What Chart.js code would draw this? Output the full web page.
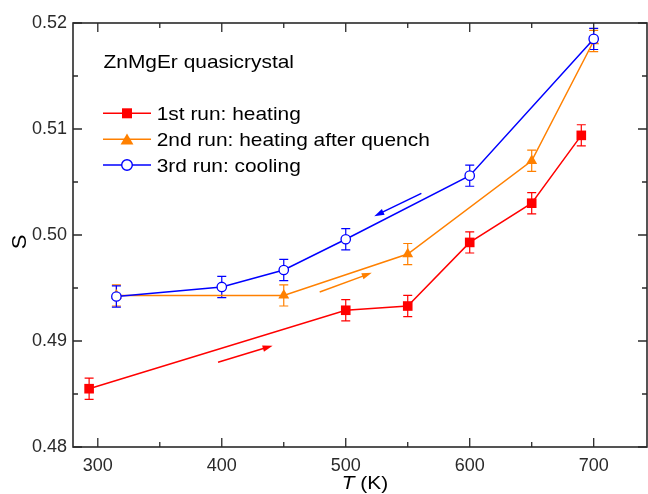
<!DOCTYPE html>
<html><head><meta charset="utf-8">
<script src="https://cdn.jsdelivr.net/npm/chart.js@4.4.1/dist/chart.umd.min.js"></script>
<style>html,body{margin:0;padding:0;background:#fff;}#wrap{width:648px;height:494px;position:relative;}</style>
</head><body><div id="wrap"><canvas id="c" width="648" height="494"></canvas></div>
<script>
// ---- data ----
const seriesNames = ['1st run: heating', '2nd run: heating after quench', '3rd run: cooling'];
const redT = [293, 500, 550, 600, 650, 690];
const redS = [0.4855, 0.4929, 0.4933, 0.4993, 0.5030, 0.5094];
const redErr = [0.001, 0.001, 0.001, 0.001, 0.001, 0.001];
const orangeT = [315, 450, 550, 650, 700];
const orangeS = [0.4943, 0.4943, 0.4982, 0.5070, 0.5183];
const orangeErr = [0.001, 0.001, 0.001, 0.001, 0.001];
const blueT = [315, 400, 450, 500, 600, 700];
const blueS = [0.4942, 0.4951, 0.4967, 0.4996, 0.5056, 0.5185];
const blueErr = [0.001, 0.001, 0.001, 0.001, 0.001, 0.001];
const xTicks = [300, 400, 500, 600, 700];
const xMinorTicks = [350, 450, 550, 650];
const yTicks = [0.48, 0.49, 0.50, 0.51, 0.52];
const yMinorTicks = [0.485, 0.495, 0.505, 0.515];
const titleText = 'ZnMgEr quasicrystal';
const xTitleItalic = 'T';
const xTitleRest = ' (K)';
const yTitleText = 'S';
// direction arrows (data coordinates: [T, S] start, end)
const arrowRed = [[397, 0.4880], [441, 0.48955]];
const arrowOrange = [[479, 0.49462], [521, 0.49643]];
const arrowBlue = [[561, 0.50392], [523, 0.50178]];

const RED = '#ff0000', ORANGE = '#ff8000', BLUE = '#0000ff', AX = '#2a2a2a';
const FONT = '"Liberation Sans", Arial, Helvetica, sans-serif';

const pts = (xs, ys) => xs.map((x, i) => ({x: x, y: ys[i]}));

function drawMarker(ctx, style, x, y, color) {
  ctx.save();
  if (style === 'rect') {
    const h = 5;
    ctx.fillStyle = color;
    ctx.fillRect(x - h, y - h, 2 * h, 2 * h);
  } else if (style === 'triangle') {
    const r = 7.4;
    ctx.fillStyle = color;
    ctx.beginPath();
    ctx.moveTo(x, y - r);
    ctx.lineTo(x + r * Math.sin(2 * Math.PI / 3), y - r * Math.cos(2 * Math.PI / 3));
    ctx.lineTo(x + r * Math.sin(4 * Math.PI / 3), y - r * Math.cos(4 * Math.PI / 3));
    ctx.closePath();
    ctx.fill();
  } else {
    ctx.fillStyle = '#fff';
    ctx.strokeStyle = color;
    ctx.lineWidth = 1.4;
    ctx.beginPath();
    ctx.arc(x, y, 5.3, 0, Math.PI * 2);
    ctx.fill();
    ctx.stroke();
  }
  ctx.restore();
}

function sText(ctx, text, x, y, size, sx, opts) {
  opts = opts || {};
  ctx.save();
  ctx.translate(x, y);
  if (opts.rot) ctx.rotate(opts.rot);
  ctx.scale(sx, 1);
  ctx.font = (opts.italic ? 'italic ' : '') + size + 'px ' + FONT;
  ctx.fillStyle = opts.color || '#000';
  ctx.textAlign = opts.align || 'left';
  ctx.textBaseline = opts.baseline || 'alphabetic';
  ctx.fillText(text, 0, 0);
  ctx.restore();
}

const deco = {
  id: 'deco',
  beforeDatasetsDraw(chart) {
    const ctx = chart.ctx, xs = chart.scales.x, ys = chart.scales.y;
    const sets = [[redT, redS, redErr, RED], [orangeT, orangeS, orangeErr, ORANGE], [blueT, blueS, blueErr, BLUE]];
    ctx.save();
    ctx.lineWidth = 1.2;
    sets.forEach(([T, S, E, col]) => {
      ctx.strokeStyle = col;
      T.forEach((t, i) => {
        const px = xs.getPixelForValue(t);
        const y1 = ys.getPixelForValue(S[i] + E[i]);
        const y2 = ys.getPixelForValue(S[i] - E[i]);
        ctx.beginPath();
        ctx.moveTo(px, y1); ctx.lineTo(px, y2);
        ctx.moveTo(px - 4.5, y1); ctx.lineTo(px + 4.5, y1);
        ctx.moveTo(px - 4.5, y2); ctx.lineTo(px + 4.5, y2);
        ctx.stroke();
      });
    });
    // arrows
    [[arrowRed, RED], [arrowOrange, ORANGE], [arrowBlue, BLUE]].forEach(([a, col]) => {
      const x1 = xs.getPixelForValue(a[0][0]), y1 = ys.getPixelForValue(a[0][1]);
      const x2 = xs.getPixelForValue(a[1][0]), y2 = ys.getPixelForValue(a[1][1]);
      const ang = Math.atan2(y2 - y1, x2 - x1);
      const L = 10, W = 3.2;
      const bx = x2 - L * Math.cos(ang), by = y2 - L * Math.sin(ang);
      ctx.strokeStyle = col; ctx.fillStyle = col; ctx.lineWidth = 1.5;
      ctx.beginPath(); ctx.moveTo(x1, y1); ctx.lineTo(bx + 2 * Math.cos(ang), by + 2 * Math.sin(ang)); ctx.stroke();
      ctx.beginPath();
      ctx.moveTo(x2, y2);
      ctx.lineTo(bx + W * Math.sin(ang), by - W * Math.cos(ang));
      ctx.lineTo(bx - W * Math.sin(ang), by + W * Math.cos(ang));
      ctx.closePath(); ctx.fill();
    });
    ctx.restore();
  },
  afterDatasetsDraw(chart) {
    const ctx = chart.ctx, xs = chart.scales.x, ys = chart.scales.y;
    const a = chart.chartArea;
    ctx.save();
    ctx.strokeStyle = AX;
    ctx.lineWidth = 1.6;
    ctx.strokeRect(a.left, a.top, a.right - a.left, a.bottom - a.top);
    ctx.lineWidth = 1.3;
    ctx.beginPath();
    const tickX = (v, len) => {
      const p = xs.getPixelForValue(v);
      ctx.moveTo(p, a.bottom); ctx.lineTo(p, a.bottom - len);
      ctx.moveTo(p, a.top); ctx.lineTo(p, a.top + len);
    };
    const tickY = (v, len) => {
      const p = ys.getPixelForValue(v);
      ctx.moveTo(a.left, p); ctx.lineTo(a.left + len, p);
      ctx.moveTo(a.right, p); ctx.lineTo(a.right - len, p);
    };
    xTicks.forEach(v => tickX(v, 9));
    xMinorTicks.forEach(v => tickX(v, 5));
    yTicks.forEach(v => tickY(v, 9));
    yMinorTicks.forEach(v => tickY(v, 5));
    ctx.stroke();
    ctx.restore();

    // title
    sText(ctx, titleText, 103.5, 68.3, 19, 1.1);
    // legend
    const legend = [[RED, 'rect', 113.3, 120], [ORANGE, 'triangle', 139.3, 146], [BLUE, 'circle', 165, 171.7]];
    legend.forEach(([col, st, cy, base], i) => {
      ctx.save();
      ctx.strokeStyle = col; ctx.lineWidth = 1.5;
      ctx.beginPath(); ctx.moveTo(103, cy); ctx.lineTo(151, cy); ctx.stroke();
      ctx.restore();
      drawMarker(ctx, st, 127, st === 'triangle' ? cy + 1.5 : cy, col);
      sText(ctx, seriesNames[i], 156.7, base, 19, 1.1);
    });
    // axis titles
    sText(ctx, yTitleText, 20, 242, 21, 1.05, {rot: -Math.PI / 2, align: 'center', baseline: 'middle'});
    ctx.save();
    ctx.font = 'italic 19px ' + FONT;
    const w1 = ctx.measureText(xTitleItalic).width * 1.1;
    ctx.font = '19px ' + FONT;
    const w2 = ctx.measureText(xTitleRest).width * 1.1;
    ctx.restore();
    const cx = (a.left + a.right) / 2 + 5;
    const x0 = cx - (w1 + w2) / 2;
    sText(ctx, xTitleItalic, x0, 489, 19, 1.1, {italic: true});
    sText(ctx, xTitleRest, x0 + w1, 489, 19, 1.1);
  }
};

const datasets = [
  {label: seriesNames[2], data: pts(blueT, blueS), borderColor: BLUE, backgroundColor: '#fff',
   pointStyle: 'circle', pointRadius: 4.7, pointBorderWidth: 1.3, pointBackgroundColor: '#fff', pointBorderColor: BLUE,
   borderWidth: 1.5, order: 0},
  {label: seriesNames[1], data: pts(orangeT, orangeS), borderColor: ORANGE, backgroundColor: ORANGE,
   pointStyle: 'triangle', pointRadius: 6.3, pointBorderWidth: 0, pointBackgroundColor: ORANGE, pointBorderColor: ORANGE,
   borderWidth: 1.5, order: 1},
  {label: seriesNames[0], data: pts(redT, redS), borderColor: RED, backgroundColor: RED,
   pointStyle: 'rect', pointRadius: 6.8, pointBorderWidth: 0, pointBackgroundColor: RED, pointBorderColor: RED,
   borderWidth: 1.5, order: 2}
];
datasets.forEach(d => { d.tension = 0; d.fill = false; d.pointHoverRadius = d.pointRadius; });

const zeroPad = () => ({left: 0, top: 0, right: 0, bottom: 0});

new Chart(document.getElementById('c'), {
  type: 'line',
  data: {datasets: datasets},
  options: {
    responsive: false,
    animation: false,
    devicePixelRatio: 1,
    layout: {autoPadding: false, padding: {top: 23, right: 1, left: 0, bottom: 0}},
    plugins: {legend: {display: false}, tooltip: {enabled: false}},
    scales: {
      x: {
        type: 'linear', min: 280, max: 743,
        afterBuildTicks: s => { s.ticks = xTicks.map(v => ({value: v})); },
        afterFit: s => { s.height = 47; s.paddingLeft = 0; s.paddingRight = 0; s.getPadding = zeroPad; },
        grid: {display: false, drawTicks: false},
        border: {display: false},
        ticks: {font: {family: FONT, size: 18}, color: AX, padding: 8, maxRotation: 0, autoSkip: false,
                callback: v => String(v)}
      },
      y: {
        type: 'linear', min: 0.48, max: 0.52,
        afterBuildTicks: s => { s.ticks = yTicks.map(v => ({value: v})); },
        afterFit: s => { s.width = 73; s.paddingTop = 0; s.paddingBottom = 0; s.getPadding = zeroPad; },
        grid: {display: false, drawTicks: false},
        border: {display: false},
        ticks: {font: {family: FONT, size: 18}, color: AX, padding: 6, autoSkip: false,
                callback: v => Number(v).toFixed(2)}
      }
    }
  },
  plugins: [deco]
});
</script>
</body></html>
